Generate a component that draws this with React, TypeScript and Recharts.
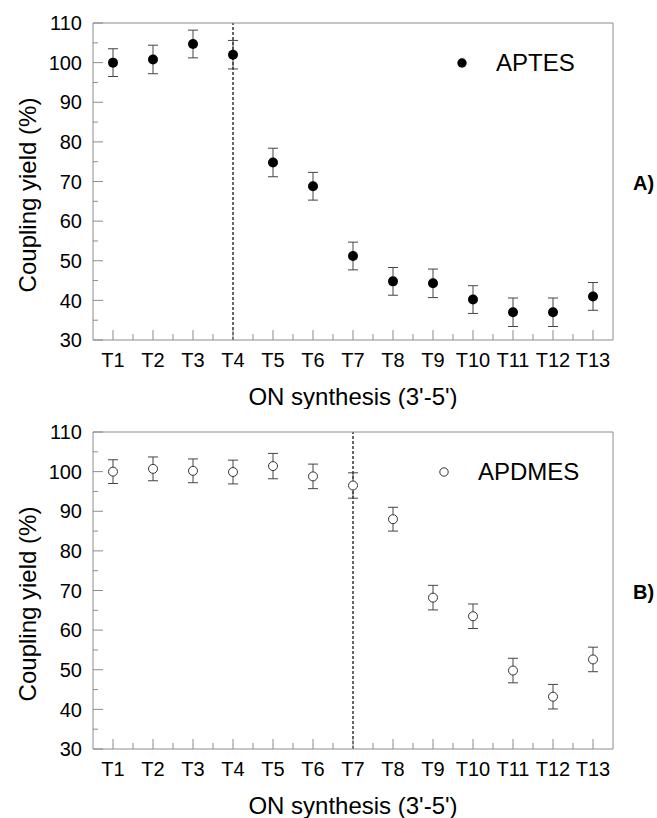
import {
  ScatterChart,
  Scatter,
  XAxis,
  YAxis,
  ErrorBar,
  ReferenceLine,
  Legend,
} from 'recharts';

const categories = ['T1', 'T2', 'T3', 'T4', 'T5', 'T6', 'T7', 'T8', 'T9', 'T10', 'T11', 'T12', 'T13'];

// panel A) APTES
const aptesYield = [100, 100.8, 104.7, 102, 74.8, 68.8, 51.2, 44.8, 44.3, 40.2, 37, 37, 41];
const aptesError = [3.5, 3.6, 3.5, 3.6, 3.6, 3.5, 3.5, 3.5, 3.6, 3.5, 3.6, 3.6, 3.5];

// panel B) APDMES
const apdmesYield = [100, 100.7, 100.2, 99.9, 101.4, 98.8, 96.5, 88, 68.2, 63.5, 49.8, 43.2, 52.6];
const apdmesError = [3.0, 3.0, 3.0, 3.0, 3.2, 3.1, 3.2, 3.0, 3.1, 3.1, 3.1, 3.1, 3.1];

const xTicks = [1, 1.5, 2, 2.5, 3, 3.5, 4, 4.5, 5, 5.5, 6, 6.5, 7, 7.5, 8, 8.5, 9, 9.5, 10, 10.5, 11, 11.5, 12, 12.5, 13];
const yTicks = [30, 35, 40, 45, 50, 55, 60, 65, 70, 75, 80, 85, 90, 95, 100, 105, 110];

const FONT = '"Liberation Sans", Arial, Helvetica, sans-serif';
const AXIS = '#8c8c8c';
const BAR = '#444';

const toPoints = (vals: number[], errs: number[]) =>
  vals.map((v, i) => ({ x: i + 1, y: v, err: errs[i], name: categories[i] }));

function BottomTick({ x, y, payload }: any) {
  const v = payload.value as number;
  const major = Number.isInteger(v);
  return (
    <g>
      <line x1={x} x2={x} y1={y} y2={y - (major ? 10 : 6)} stroke={AXIS} />
      {major && (
        <text x={x} y={y + 20} dy="0.36em" textAnchor="middle" fontSize={20} fill="#000" fontFamily={FONT}>
          {categories[v - 1]}
        </text>
      )}
    </g>
  );
}

function TopTick({ x, y, payload }: any) {
  const major = Number.isInteger(payload.value);
  return <line x1={x} x2={x} y1={y} y2={y + (major ? 10 : 6)} stroke={AXIS} />;
}

function LeftTick({ x, y, payload }: any) {
  const major = payload.value % 10 === 0;
  return (
    <g>
      <line x1={x} x2={x + (major ? 10 : 5)} y1={y} y2={y} stroke={AXIS} />
      {major && (
        <text x={x - 11} y={y} dy="0.36em" textAnchor="end" fontSize={20} fill="#000" fontFamily={FONT}>
          {payload.value}
        </text>
      )}
    </g>
  );
}

function RightTick({ x, y, payload }: any) {
  const major = payload.value % 10 === 0;
  return <line x1={x} x2={x - (major ? 10 : 5)} y1={y} y2={y} stroke={AXIS} />;
}

function YTitle() {
  return (
    <text
      x={27}
      y={195}
      dy="0.36em"
      transform="rotate(-90, 27, 195)"
      textAnchor="middle"
      fontSize={24}
      fill="#000"
      fontFamily={FONT}
    >
      Coupling yield (%)
    </text>
  );
}

function XTitle() {
  return (
    <text x={353} y={396} dy="0.36em" textAnchor="middle" fontSize={24} fill="#000" fontFamily={FONT}>
      ON synthesis (3'-5')
    </text>
  );
}

function PanelTag({ tag }: { tag: string }) {
  return (
    <text x={633} y={183} dy="0.36em" fontSize={20} fontWeight="bold" fill="#000" fontFamily={FONT}>
      {tag}
    </text>
  );
}

function LegendBox({ name, filled }: { name: string; filled: boolean }) {
  return (
    <div style={{ position: 'relative', height: 24, fontFamily: FONT }}>
      <svg width={12} height={12} style={{ position: 'absolute', left: 0, top: 6 }}>
        {filled ? (
          <circle cx={6} cy={6} r={4.7} fill="#000" />
        ) : (
          <circle cx={6} cy={6} r={4.2} fill="#fff" stroke="#333" strokeWidth={1} />
        )}
      </svg>
      <span
        style={{ position: 'absolute', left: 40, top: 0, fontSize: 24, lineHeight: '24px', color: '#000', whiteSpace: 'nowrap' }}
      >
        {name}
      </span>
    </div>
  );
}

function Panel({
  values,
  errors,
  cutoff,
  filled,
  name,
  tag,
  legendLeft,
}: {
  values: number[];
  errors: number[];
  cutoff: number;
  filled: boolean;
  name: string;
  tag: string;
  legendLeft: number;
}) {
  const data = toPoints(values, errors);
  return (
    <ScatterChart width={657} height={409} margin={{ top: 20, right: 40, bottom: 9, left: 33 }}>
      <XAxis
        xAxisId="b"
        type="number"
        dataKey="x"
        domain={[0.5, 13.5]}
        ticks={xTicks}
        interval={0}
        tick={<BottomTick />}
        tickLine={false}
        tickSize={0}
        tickMargin={0}
        stroke={AXIS}
        height={60}
        label={<XTitle />}
      />
      <XAxis
        xAxisId="t"
        orientation="top"
        type="number"
        domain={[0.5, 13.5]}
        ticks={xTicks}
        interval={0}
        tick={<TopTick />}
        tickLine={false}
        tickSize={0}
        tickMargin={0}
        stroke={AXIS}
        height={3}
      />
      <YAxis
        yAxisId="l"
        type="number"
        dataKey="y"
        domain={[30, 110]}
        ticks={yTicks}
        interval={0}
        tick={<LeftTick />}
        tickLine={false}
        tickSize={0}
        tickMargin={0}
        stroke={AXIS}
        width={60}
        label={<YTitle />}
      />
      <YAxis
        yAxisId="r"
        orientation="right"
        type="number"
        domain={[30, 110]}
        ticks={yTicks}
        interval={0}
        tick={<RightTick />}
        tickLine={false}
        tickSize={0}
        tickMargin={0}
        stroke={AXIS}
        width={4}
        label={<PanelTag tag={tag} />}
      />
      <ReferenceLine xAxisId="b" yAxisId="l" x={cutoff} stroke="#000" strokeWidth={1.2} strokeDasharray="3 2" />
      <Scatter
        xAxisId="b"
        yAxisId="l"
        name={name}
        data={data}
        isAnimationActive={false}
        shape={(p: any) =>
          filled ? (
            <circle cx={p.cx} cy={p.cy} r={5} fill="#000" />
          ) : (
            <circle cx={p.cx} cy={p.cy} r={4.5} fill="#fff" stroke="#333" strokeWidth={1} />
          )
        }
      >
        <ErrorBar dataKey="err" direction="y" width={5} stroke={BAR} strokeWidth={1} isAnimationActive={false} />
      </Scatter>
      <Legend
        layout="vertical"
        align="center"
        verticalAlign="middle"
        wrapperStyle={{ left: legendLeft, top: 51, width: 160, height: 24 }}
        content={() => <LegendBox name={name} filled={filled} />}
      />
    </ScatterChart>
  );
}

export default function App() {
  return (
    <div style={{ position: 'absolute', left: 0, top: 0, width: 657, height: 818, background: '#fff', fontFamily: FONT }}>
      <Panel values={aptesYield} errors={aptesError} cutoff={4} filled name="APTES" tag="A)" legendLeft={456} />
      <Panel values={apdmesYield} errors={apdmesError} cutoff={7} filled={false} name="APDMES" tag="B)" legendLeft={438} />
    </div>
  );
}
